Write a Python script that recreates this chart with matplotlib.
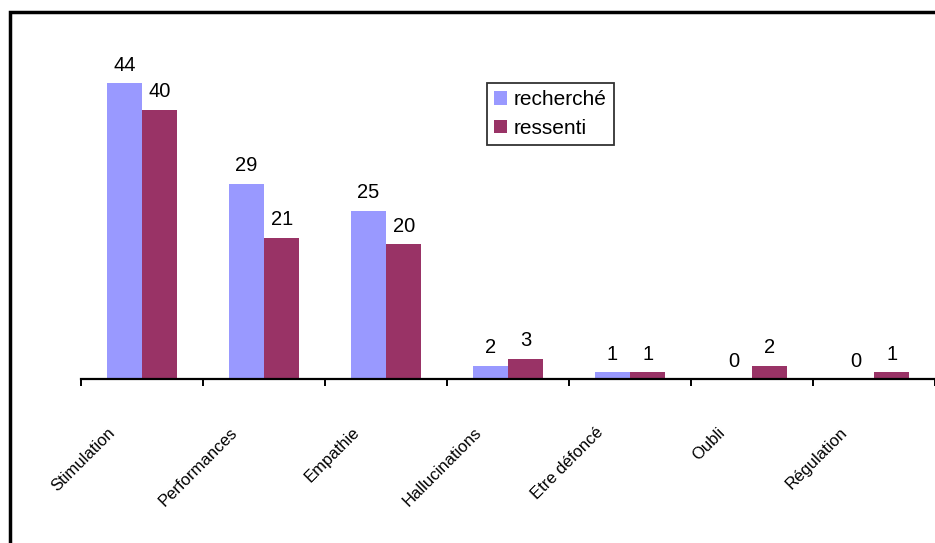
import matplotlib
matplotlib.use("Agg")
import matplotlib.pyplot as plt
import matplotlib.transforms as mtransforms
from matplotlib.patches import Rectangle
import numpy as np

# motivations : recherchées vs ressenties
categories = ["Stimulation", "Performances", "Empathie", "Hallucinations",
              "Etre défoncé", "Oubli", "Régulation"]
recherche = [44, 29, 25, 2, 1, 0, 0]
ressenti = [40, 21, 20, 3, 1, 2, 1]

plt.rcParams["font.family"] = ["Liberation Sans", "DejaVu Sans"]

fig = plt.figure(figsize=(9.35, 5.43), dpi=100)
ax = fig.add_axes([81 / 935, 1 - 379 / 543, 1 - 81 / 935, 336.5 / 543])

x = np.arange(len(categories))
w = 0.29
b1 = ax.bar(x - w / 2, recherche, w, color="#9999FF", label="recherché")
b2 = ax.bar(x + w / 2, ressenti, w, color="#993366", label="ressenti")
ax.bar_label(b1, padding=6, fontsize=14.5)
ax.bar_label(b2, padding=6, fontsize=14.5)

ax.set_xlim(-0.5, len(categories) - 0.5)
ax.set_ylim(0, 50)

for s in ("left", "top", "right"):
    ax.spines[s].set_visible(False)
ax.spines["bottom"].set_linewidth(1.6)
ax.set_yticks([])

# graduations entre les catégories, étiquettes tournées à part
ax.set_xticks(np.arange(-0.5, len(categories)), labels=[])
ax.tick_params(axis="x", direction="out", length=5, width=1.4)

shift = mtransforms.ScaledTranslation(-29 / 100, -51 / 100, fig.dpi_scale_trans)
trans = mtransforms.blended_transform_factory(ax.transData, ax.transAxes) + shift
for i, name in enumerate(categories):
    ax.text(i, 0, name, transform=trans, rotation=45, rotation_mode="anchor",
            ha="right", va="center", fontsize=12, clip_on=False,
            family=["Liberation Sans Narrow", "Liberation Sans"])

leg = ax.legend(loc="upper left", bbox_to_anchor=(487 / 935, 1 - 83 / 543),
                bbox_transform=fig.transFigure, fontsize=15, frameon=True,
                fancybox=False, edgecolor="black", handlelength=0.6,
                handleheight=0.6, handletextpad=0.35, borderpad=0.35,
                labelspacing=0.45, borderaxespad=0)
leg.get_frame().set_linewidth(1.3)

# cadre de la zone graphique
fig.patches.append(Rectangle((10 / 935, -0.05), 1.1, 1 - 12 / 543 + 0.05,
                             transform=fig.transFigure, fill=False,
                             edgecolor="black", lw=2.5))

fig.savefig("out.png", dpi=100)
